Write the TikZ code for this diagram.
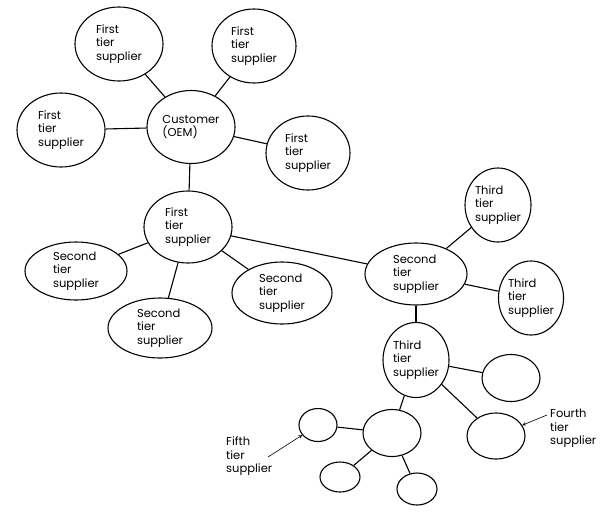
\documentclass[tikz,border=0pt]{standalone}
\usepackage{fontspec}
\setmainfont{Poppins}
\usetikzlibrary{shapes.geometric, arrows}
\tikzstyle{supplier} = [ellipse, draw=black, line width=1.1pt, inner sep=0pt, align=left, font=\fontsize{11.5}{13.5}\selectfont]
\tikzstyle{note} = [inner sep=0pt, align=left, anchor=north west, font=\fontsize{11.5}{13.5}\selectfont]
\tikzstyle{link} = [line width=1.1pt]
\tikzstyle{arrow} = [semithick,->,>=stealth]

\begin{document}
\begin{tikzpicture}[x=1pt, y=-1pt]
        \useasboundingbox (0,0) rectangle (604,512);
        \node (customer) [supplier, minimum width=88pt, minimum height=73pt] at (191,127) {Customer\\(OEM)};
        \node (firstnw) [supplier, minimum width=88pt, minimum height=74pt] at (119,44) {First\\tier\\supplier};
        \node (firstne) [supplier, minimum width=84pt, minimum height=74pt] at (254,46) {First\\tier\\supplier};
        \node (firstw) [supplier, minimum width=88pt, minimum height=74pt] at (61,130) {First\\tier\\supplier};
        \node (firste) [supplier, minimum width=84pt, minimum height=74pt] at (308,153) {First\\tier\\supplier};
        \node (firsttier) [supplier, minimum width=88pt, minimum height=72pt] at (188,227) {First\\tier\\supplier};
        \node (secondw) [supplier, minimum width=102pt, minimum height=58pt] at (76,271) {Second\\tier\\supplier};
        \node (seconds) [supplier, minimum width=104pt, minimum height=60pt] at (160,328) {Second\\tier\\supplier};
        \node (seconde) [supplier, minimum width=100pt, minimum height=62pt] at (282,293) {Second\\tier\\supplier};
        \node (secondtier) [supplier, minimum width=102pt, minimum height=62pt] at (416,274) {Second\\tier\\supplier};
        \node (thirdn) [supplier, minimum width=66pt, minimum height=74pt] at (498,205) {Third\\tier\\supplier};
        \node (thirde) [supplier, minimum width=62pt, minimum height=74pt] at (531,298) {Third\\tier\\supplier};
        \node (thirdtier) [supplier, minimum width=66pt, minimum height=75pt] at (416,360) {Third\\tier\\supplier};
        \node (fourtha) [supplier, minimum width=58pt, minimum height=47pt] at (511,378) {};
        \node (fourthb) [supplier, minimum width=58pt, minimum height=46pt] at (496,436) {};
        \node (fourthc) [supplier, minimum width=58pt, minimum height=47pt] at (392,433) {};
        \node (fiftha) [supplier, minimum width=38pt, minimum height=33pt] at (318,425) {};
        \node (fifthb) [supplier, minimum width=40pt, minimum height=30pt] at (340,477) {};
        \node (fifthc) [supplier, minimum width=40pt, minimum height=32pt] at (417,489) {};
        \node (fourthnote) [note] at (550,409) {Fourth\\tier\\supplier};
        \node (fifthnote) [note] at (226,437) {Fifth\\tier\\supplier};
        \coordinate (fourthstart) at (547,415);
        \coordinate (fifthstart) at (268,457);

        \draw [link] (customer) -- (firstnw);
        \draw [link] (customer) -- (firstne);
        \draw [link] (customer) -- (firstw);
        \draw [link] (customer) -- (firste);
        \draw [link] (customer) -- (firsttier);
        \draw [link] (firsttier) -- (secondw);
        \draw [link] (firsttier) -- (seconds);
        \draw [link] (firsttier) -- (seconde);
        \draw [link] (firsttier) -- (secondtier);
        \draw [link] (secondtier) -- (thirdn);
        \draw [link] (secondtier) -- (thirde);
        \draw [link] (secondtier) -- (thirdtier);
        \draw [link] (thirdtier) -- (fourtha);
        \draw [link] (thirdtier) -- (fourthb);
        \draw [link] (thirdtier) -- (fourthc);
        \draw [link] (fourthc) -- (fiftha);
        \draw [link] (fourthc) -- (fifthb);
        \draw [link] (fourthc) -- (fifthc);
        \draw [arrow] (fourthstart) -- (fourthb);
        \draw [arrow] (fifthstart) -- (fiftha);
    \end{tikzpicture}
\end{document}
